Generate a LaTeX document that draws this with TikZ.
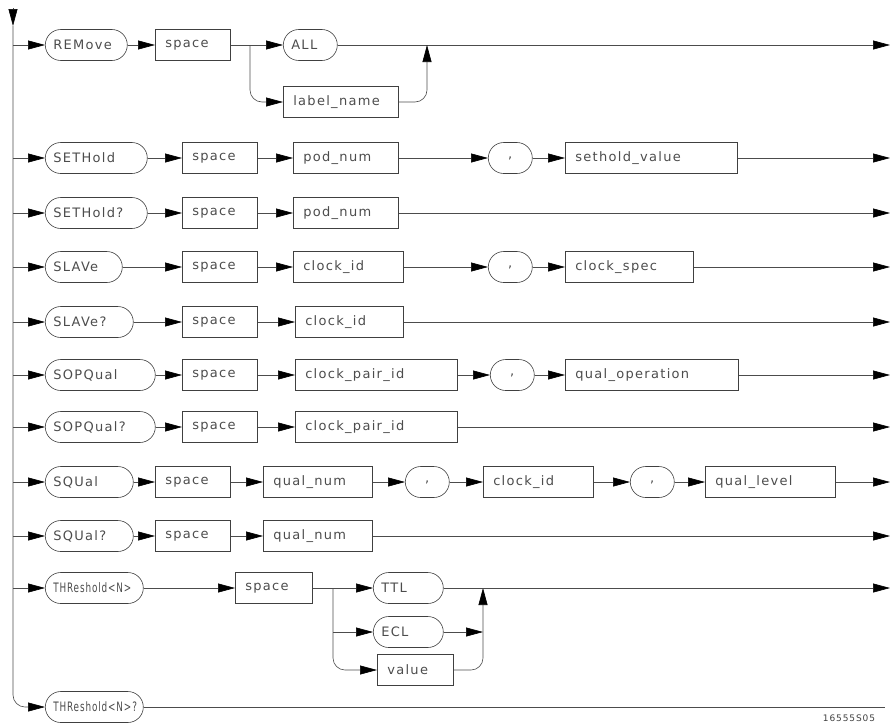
\documentclass[tikz,border=0pt]{standalone}
\usepackage{fontspec}
\setmainfont{DejaVu Sans}[LetterSpace=10]
\usetikzlibrary{arrows.meta}
\newcommand\thrtext[1]{\scalebox{0.68}[1]{#1}}
\begin{document}
\begin{tikzpicture}[x=1pt,y=-1pt,
  line/.style={draw=black!70, line width=0.6pt},
  arr/.style={line, -{Triangle[length=17pt,width=9pt,black]}},
  kw/.style={draw=black!75, line width=0.6pt, rounded corners=15.5pt, minimum height=31pt,
    inner xsep=8pt, inner ysep=0pt, anchor=west, align=left, text=black!70,
    font=\fontsize{13}{15}\selectfont},
  bx/.style={draw=black!75, line width=0.6pt, minimum height=31pt,
    inner xsep=10pt, inner ysep=0pt, anchor=west, align=left, text=black!70,
    font=\fontsize{13}{15}\selectfont},
  commabox/.style={draw=black!75, line width=0.6pt, rounded corners=15.5pt, minimum height=31pt,
    minimum width=44pt, inner sep=0pt, anchor=west, text=black!70,
    font=\fontsize{13}{15}\selectfont},
  fignum/.style={text=black!75, font=\fontsize{9}{10}\selectfont}
]
\useasboundingbox (0,0) rectangle (890,726);

% spine
\coordinate (sTop) at (13,8);
\coordinate (sTip) at (13,26);
\foreach \n/\y in {1/45,2/158,3/213,4/267,5/322,6/375,7/427,8/482,9/536,10/588}
  \coordinate (s\n) at (13,\y);
\foreach \n/\y in {1/45,2/158,3/213,4/267,5/322,6/375,7/427,8/482,9/536,10/588}
  \coordinate (e\n) at (890,\y);
\coordinate (e11) at (885,707);

% row 1
\node[kw, text width=66pt] (k1) at (45,45) {REMove};
\node[bx, text width=55pt] (sp1) at (155,45) {space};
\node[kw, text width=38pt] (all) at (283,45) {ALL};
\node[bx, text width=95pt] (lab) at (283,102) {label\_name};
\coordinate (b1) at (250,45);
\coordinate (j1) at (427,45);

% row 2
\node[kw, text width=86pt] (k2) at (45,158) {SETHold};
\node[bx, text width=55pt] (sp2) at (182,158) {space};
\node[bx, text width=85pt] (pod2) at (293,158) {pod\_num};
\node[commabox] (c2) at (488,158) {,};
\node[bx, text width=152pt] (sv2) at (565,158) {sethold\_value};

% row 3
\node[kw, text width=86pt] (k3) at (45,213) {SETHold?};
\node[bx, text width=55pt] (sp3) at (182,213) {space};
\node[bx, text width=85pt] (pod3) at (293,213) {pod\_num};

% row 4
\node[kw, text width=61pt] (k4) at (45,267) {SLAVe};
\node[bx, text width=55pt] (sp4) at (182,267) {space};
\node[bx, text width=90pt] (cid4) at (293,267) {clock\_id};
\node[commabox] (c4) at (488,267) {,};
\node[bx, text width=108pt] (cs4) at (565,267) {clock\_spec};

% row 5
\node[kw, text width=72pt] (k5) at (45,322) {SLAVe?};
\node[bx, text width=55pt] (sp5) at (182,322) {space};
\node[bx, text width=88pt] (cid5) at (295,322) {clock\_id};

% row 6
\node[kw, text width=94pt] (k6) at (45,375) {SOPQual};
\node[bx, text width=55pt] (sp6) at (182,375) {space};
\node[bx, text width=142pt] (cp6) at (295,375) {clock\_pair\_id};
\node[commabox] (c6) at (490,375) {,};
\node[bx, text width=153pt] (qo6) at (565,375) {qual\_operation};

% row 7
\node[kw, text width=94pt] (k7) at (45,427) {SOPQual?};
\node[bx, text width=55pt] (sp7) at (182,427) {space};
\node[bx, text width=142pt] (cp7) at (295,427) {clock\_pair\_id};

% row 8
\node[kw, text width=72pt] (k8) at (45,482) {SQUal};
\node[bx, text width=55pt] (sp8) at (155,482) {space};
\node[bx, text width=89pt] (qn8) at (263,482) {qual\_num};
\node[commabox] (c8a) at (405,482) {,};
\node[bx, text width=90pt] (cid8) at (483,482) {clock\_id};
\node[commabox] (c8b) at (630,482) {,};
\node[bx, text width=110pt] (ql8) at (705,482) {qual\_level};

% row 9
\node[kw, text width=72pt] (k9) at (45,536) {SQUal?};
\node[bx, text width=55pt] (sp9) at (155,536) {space};
\node[bx, text width=89pt] (qn9) at (263,536) {qual\_num};

% row 10
\node[kw, text width=82pt] (k10) at (45,588) {\thrtext{THReshold<N>}};
\node[bx, text width=57pt] (sp10) at (235,588) {space};
\node[kw, text width=54pt] (ttl) at (373,588) {TTL};
\node[kw, text width=54pt] (ecl) at (373,632) {ECL};
\node[bx, text width=56pt] (val) at (377,670) {value};
\coordinate (b10) at (333,588);
\coordinate (b10e) at (333,632);
\coordinate (j10) at (483,588);
\coordinate (j10e) at (483,632);

% row 11
\node[kw, text width=82pt] (k11) at (45,707) {\thrtext{THReshold<N>?}};

% figure number
\node[fignum] (fig) at (849,718) {16555S05};

% ---------- connectors ----------
\draw[arr] (sTop) -- (sTip);
\draw[arr, rounded corners=12pt] (sTip) |- (k11.west);
\foreach \n in {1,...,10}
  \draw[arr] (s\n) -- (k\n.west);

% row 1
\draw[arr] (k1.east) -- (sp1.west);
\draw[arr] (sp1.east) -- (all.west);
\draw[arr, rounded corners=12pt] (b1) |- (lab.west);
\draw[arr] (all.east) -- (e1);
\draw[arr, rounded corners=12pt] (lab.east) -| (j1);

% row 2
\draw[arr] (k2.east) -- (sp2.west);
\draw[arr] (sp2.east) -- (pod2.west);
\draw[arr] (pod2.east) -- (c2.west);
\draw[arr] (c2.east) -- (sv2.west);
\draw[arr] (sv2.east) -- (e2);

% row 3
\draw[arr] (k3.east) -- (sp3.west);
\draw[arr] (sp3.east) -- (pod3.west);
\draw[arr] (pod3.east) -- (e3);

% row 4
\draw[arr] (k4.east) -- (sp4.west);
\draw[arr] (sp4.east) -- (cid4.west);
\draw[arr] (cid4.east) -- (c4.west);
\draw[arr] (c4.east) -- (cs4.west);
\draw[arr] (cs4.east) -- (e4);

% row 5
\draw[arr] (k5.east) -- (sp5.west);
\draw[arr] (sp5.east) -- (cid5.west);
\draw[arr] (cid5.east) -- (e5);

% row 6
\draw[arr] (k6.east) -- (sp6.west);
\draw[arr] (sp6.east) -- (cp6.west);
\draw[arr] (cp6.east) -- (c6.west);
\draw[arr] (c6.east) -- (qo6.west);
\draw[arr] (qo6.east) -- (e6);

% row 7
\draw[arr] (k7.east) -- (sp7.west);
\draw[arr] (sp7.east) -- (cp7.west);
\draw[arr] (cp7.east) -- (e7);

% row 8
\draw[arr] (k8.east) -- (sp8.west);
\draw[arr] (sp8.east) -- (qn8.west);
\draw[arr] (qn8.east) -- (c8a.west);
\draw[arr] (c8a.east) -- (cid8.west);
\draw[arr] (cid8.east) -- (c8b.west);
\draw[arr] (c8b.east) -- (ql8.west);
\draw[arr] (ql8.east) -- (e8);

% row 9
\draw[arr] (k9.east) -- (sp9.west);
\draw[arr] (sp9.east) -- (qn9.west);
\draw[arr] (qn9.east) -- (e9);

% row 10
\draw[arr] (k10.east) -- (sp10.west);
\draw[arr] (sp10.east) -- (ttl.west);
\draw[arr, rounded corners=12pt] (b10) |- (val.west);
\draw[arr] (b10e) -- (ecl.west);
\draw[arr] (ecl.east) -- (j10e);
\draw[arr, rounded corners=12pt] (val.east) -| (j10);
\draw[arr] (ttl.east) -- (e10);

% row 11
\draw[line] (k11.east) -- (e11);
\end{tikzpicture}
\end{document}
